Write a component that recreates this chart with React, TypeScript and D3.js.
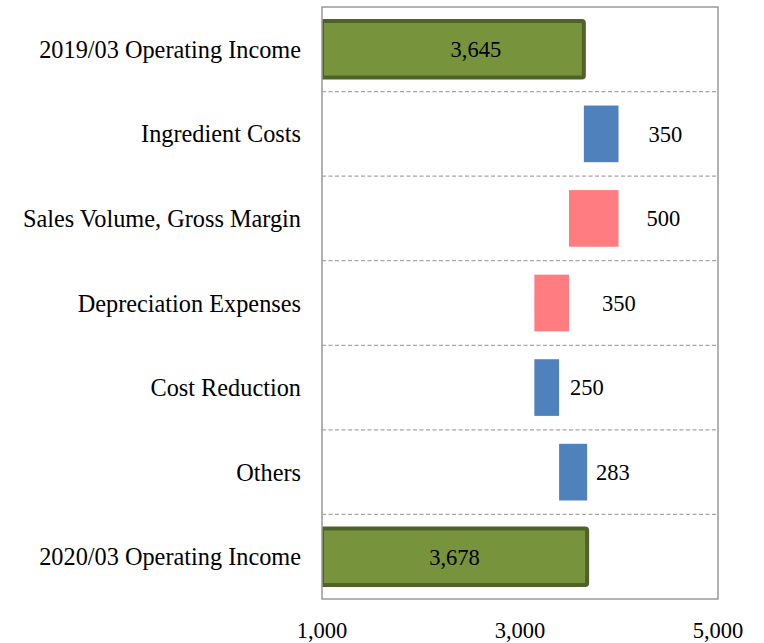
import React, { useEffect, useRef } from "react";
import * as d3 from "d3";

// categories, top to bottom
const categories = [
  "2019/03 Operating Income",
  "Ingredient Costs",
  "Sales Volume, Gross Margin",
  "Depreciation Expenses",
  "Cost Reduction",
  "Others",
  "2020/03 Operating Income",
];

// step kind: total bar, increase or decrease
const kinds = ["total", "up", "down", "down", "up", "up", "total"];

// amount shown on each bar
const amounts = [3645, 350, 500, 350, 250, 283, 3678];

const xTicks = [1000, 3000, 5000];

const W = 764;
const H = 643;

export default function App() {
  const svgRef = useRef<SVGSVGElement | null>(null);

  useEffect(() => {
    if (!svgRef.current) return;
    const svg = d3.select(svgRef.current);
    svg.selectAll("*").remove();

    const left = 322, right = 718, top = 7, bottom = 599;
    const font = "'Liberation Serif', 'Times New Roman', serif";

    const x = d3.scaleLinear().domain([1000, 5000]).range([left, right]);
    const y = d3.scaleBand<string>()
      .domain(categories)
      .range([top, bottom])
      .paddingInner(0.33)
      .paddingOuter(0.165);
    const step = y.step();

    // build waterfall segments
    let running = 0;
    const bars = categories.map((c, i) => {
      let x0 = 1000, x1 = amounts[i];
      if (kinds[i] === "total") {
        running = amounts[i];
      } else if (kinds[i] === "up") {
        x0 = running;
        x1 = running + amounts[i];
        running = x1;
      } else {
        x1 = running;
        x0 = running - amounts[i];
        running = x0;
      }
      return { c, kind: kinds[i], amount: amounts[i], x0, x1 };
    });

    svg.append("defs").append("clipPath").attr("id", "plot-clip")
      .append("rect")
      .attr("x", left).attr("y", top)
      .attr("width", right - left).attr("height", bottom - top);

    // row dividers
    svg.selectAll(".divider")
      .data(categories.slice(1))
      .enter()
      .append("line")
      .attr("x1", left)
      .attr("x2", right)
      .attr("y1", (d) => (y(d) as number) - (step - y.bandwidth()) / 2)
      .attr("y2", (d) => (y(d) as number) - (step - y.bandwidth()) / 2)
      .attr("stroke", "#a6a6a6")
      .attr("stroke-width", 1.2)
      .attr("stroke-dasharray", "4,2.5");

    const colors: Record<string, string> = { total: "#77933c", up: "#4f81bd", down: "#ff7c80" };

    svg.append("g")
      .attr("clip-path", "url(#plot-clip)")
      .selectAll("rect")
      .data(bars)
      .enter()
      .append("rect")
      .attr("x", (d) => x(d.x0))
      .attr("width", (d) => x(d.x1) - x(d.x0))
      .attr("y", (d) => y(d.c) as number)
      .attr("height", y.bandwidth())
      .attr("rx", (d) => (d.kind === "total" ? 2 : 0))
      .attr("fill", (d) => colors[d.kind])
      .attr("stroke", (d) => (d.kind === "total" ? "#4f6228" : "none"))
      .attr("stroke-width", 4);

    // plot frame
    svg.append("rect")
      .attr("x", left).attr("y", top)
      .attr("width", right - left).attr("height", bottom - top)
      .attr("fill", "none")
      .attr("stroke", "#999")
      .attr("stroke-width", 1.5);

    // value labels
    const labelDx = [23, 30, 28, 33, 11, 9, 0];
    svg.selectAll(".val")
      .data(bars)
      .enter()
      .append("text")
      .attr("x", (d, i) => d.kind === "total" ? (x(d.x0) + x(d.x1)) / 2 + labelDx[i] : x(d.x1) + labelDx[i])
      .attr("y", (d) => (y(d.c) as number) + y.bandwidth() / 2)
      .attr("dy", "0.35em")
      .attr("text-anchor", (d) => (d.kind === "total" ? "middle" : "start"))
      .attr("font-family", font)
      .attr("font-size", 22.5)
      .attr("fill", "#000")
      .text((d) => d3.format(",")(d.amount));

    // category labels
    svg.selectAll(".cat")
      .data(categories)
      .enter()
      .append("text")
      .attr("x", left - 21)
      .attr("y", (d) => (y(d) as number) + y.bandwidth() / 2)
      .attr("dy", "0.35em")
      .attr("text-anchor", "end")
      .attr("font-family", font)
      .attr("font-size", 24.3)
      .attr("fill", "#000")
      .text((d) => d);

    // x tick labels
    svg.selectAll(".tick")
      .data(xTicks)
      .enter()
      .append("text")
      .attr("x", (d) => x(d))
      .attr("y", 638)
      .attr("text-anchor", "middle")
      .attr("font-family", font)
      .attr("font-size", 22.5)
      .attr("fill", "#000")
      .text((d) => d3.format(",")(d));
  }, []);

  return (
    <div style={{ position: "absolute", left: 0, top: 0 }}>
      <svg ref={svgRef} width={W} height={H} style={{ display: "block", background: "#fff" }} />
    </div>
  );
}
